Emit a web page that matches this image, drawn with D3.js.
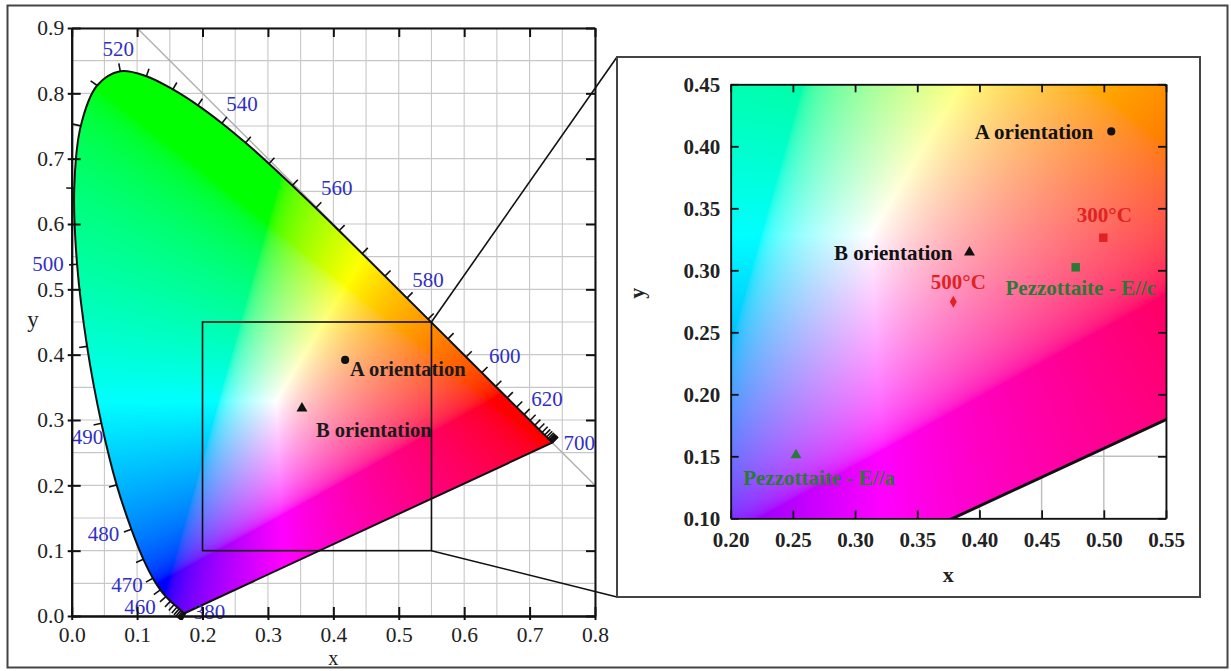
<!DOCTYPE html>
<html><head><meta charset="utf-8">
<script src="https://cdn.jsdelivr.net/npm/d3@7"></script>
<style>
body{margin:0;background:#fff;}
svg{display:block;}
text{font-family:"Liberation Serif","Times New Roman",serif;}
</style>
</head><body>
<svg id="chart" width="1231" height="671"></svg>
<script>
// ---------------- DATA ----------------
const wavelengths = [380,385,390,395,400,405,410,415,420,425,430,435,440,445,450,455,460,465,470,475,480,485,490,495,500,505,510,515,520,525,530,535,540,545,550,555,560,565,570,575,580,585,590,595,600,605,610,615,620,625,630,635,640,645,650,655,660,665,670,675,680,685,690,695,700];
const locusX = [0.1741,0.1740,0.1738,0.1736,0.1733,0.1730,0.1726,0.1721,0.1714,0.1703,0.1689,0.1669,0.1644,0.1611,0.1566,0.1510,0.1440,0.1355,0.1241,0.1096,0.0913,0.0687,0.0454,0.0235,0.0082,0.0039,0.0139,0.0389,0.0743,0.1142,0.1547,0.1929,0.2296,0.2658,0.3016,0.3373,0.3731,0.4087,0.4441,0.4788,0.5125,0.5448,0.5752,0.6029,0.6270,0.6482,0.6658,0.6801,0.6915,0.7006,0.7079,0.7140,0.7190,0.7230,0.7260,0.7283,0.7300,0.7311,0.7320,0.7327,0.7334,0.7340,0.7344,0.7346,0.7347];
const locusY = [0.0050,0.0050,0.0049,0.0049,0.0048,0.0048,0.0048,0.0048,0.0051,0.0058,0.0069,0.0086,0.0109,0.0138,0.0177,0.0227,0.0297,0.0399,0.0578,0.0868,0.1327,0.2007,0.2950,0.4127,0.5384,0.6548,0.7502,0.8120,0.8338,0.8262,0.8059,0.7816,0.7543,0.7243,0.6923,0.6589,0.6245,0.5896,0.5547,0.5202,0.4866,0.4544,0.4242,0.3965,0.3725,0.3514,0.3340,0.3197,0.3083,0.2993,0.2920,0.2859,0.2809,0.2770,0.2740,0.2717,0.2700,0.2689,0.2680,0.2673,0.2666,0.2660,0.2656,0.2654,0.2653];
const wlLabels = [380,460,470,480,490,500,520,540,560,580,600,620,700];

const mainTicksX = [0.0,0.1,0.2,0.3,0.4,0.5,0.6,0.7,0.8];
const mainTicksY = [0.0,0.1,0.2,0.3,0.4,0.5,0.6,0.7,0.8,0.9];
const mainGridStep = 0.05;
const insetTicksX = [0.20,0.25,0.30,0.35,0.40,0.45,0.50,0.55];
const insetTicksY = [0.10,0.15,0.20,0.25,0.30,0.35,0.40,0.45];

const mainPointNames = ["A orientation","B orientation"];
const mainPointX = [0.418,0.352];
const mainPointY = [0.392,0.318];
const mainPointShapes = ["circle","triangle"];

const insetNames = ["A orientation","B orientation","300°C","500°C","Pezzottaite - E//c","Pezzottaite - E//a"];
const insetX = [0.506,0.392,0.4996,0.379,0.4774,0.2525];
const insetY = [0.412,0.3145,0.3263,0.2747,0.3024,0.151];
const insetShapes = ["circle","triangle","square","diamond","square","triangle"];
const insetGroups = ["black","black","red","red","green","green"];

const zoomX = [0.2,0.55];
const zoomY = [0.1,0.45];

// ---------------- LAYOUT ----------------
const svg = d3.select("#chart");
const groupColor = {black:"#111", red:"#e02222", green:"#2a7a36"};
const wlLabelOffset = {380:[24,-1],460:[-26,10],470:[-26,6],480:[-28,4],490:[-14,13],500:[-29,-1],520:[-2,-23],540:[20,-20],560:[21,-20],580:[21,-18],600:[23,-17],620:[23,-16],700:[27,0]};
const mainLabelLayout = [{anchor:"start",dx:5,dy:16},{anchor:"start",dx:14,dy:29}];
const insetLabelLayout = [
  {anchor:"end",dx:-18,dy:8},
  {anchor:"end",dx:-17,dy:8},
  {anchor:"middle",dx:1,dy:-16},
  {anchor:"middle",dx:5,dy:-13},
  {anchor:"middle",dx:5,dy:28},
  {anchor:"middle",dx:23,dy:30}
];
const symType = {circle:d3.symbolCircle, triangle:d3.symbolTriangle, square:d3.symbolSquare, diamond:d3.symbolDiamond};
const symSize = {circle:52, triangle:52, square:72, diamond:42};

const mx = d3.scaleLinear().domain([0,0.8]).range([71.7,595]);
const my = d3.scaleLinear().domain([0,0.9]).range([616,28]);
const ix = d3.scaleLinear().domain([0.2,0.55]).range([730.7,1166]);
const iy = d3.scaleLinear().domain([0.1,0.45]).range([518.3,84.3]);

const locus = wavelengths.map((w,i)=>({w, x:locusX[i], y:locusY[i]}));

// outer frame
svg.append("rect").attr("x",7.5).attr("y",5.5).attr("width",1220).attr("height",662)
  .attr("fill","#fff").attr("stroke","#444").attr("stroke-width",2);

const defs = svg.append("defs");

function locusPath(xs, ys){
  return d3.line().x(d=>xs(d.x)).y(d=>ys(d.y)).curve(d3.curveCatmullRom.alpha(0.5))(locus) + "Z";
}

function chroma(x, y){
  if (y < 0.002) y = 0.002;
  const X = x / y, Y = 1, Z = (1 - x - y) / y;
  let r = 3.2406*X - 1.5372*Y - 0.4986*Z;
  let g = -0.9689*X + 1.8758*Y + 0.0415*Z;
  let b = 0.0557*X - 0.2040*Y + 1.0570*Z;
  r = Math.max(r,0); g = Math.max(g,0); b = Math.max(b,0);
  const m = Math.max(r,g,b) || 1;
  const gam = v => { v = v/m; return v <= 0.0031308 ? 12.92*v : 1.055*Math.pow(v,1/2.4) - 0.055; };
  return [gam(r)*255, gam(g)*255, gam(b)*255];
}

function colorImage(xs, ys){
  const x0 = Math.floor(xs.range()[0]), x1 = Math.ceil(xs.range()[1]);
  const y0 = Math.floor(ys.range()[1]), y1 = Math.ceil(ys.range()[0]);
  const w = x1 - x0, h = y1 - y0;
  const c = document.createElement("canvas"); c.width = w; c.height = h;
  const ctx = c.getContext("2d");
  const img = ctx.createImageData(w, h);
  for (let j = 0; j < h; j++){
    const cy = ys.invert(y0 + j + 0.5);
    for (let i = 0; i < w; i++){
      const cx = xs.invert(x0 + i + 0.5);
      const rgb = chroma(cx, cy);
      const k = (j*w + i)*4;
      img.data[k] = rgb[0]; img.data[k+1] = rgb[1]; img.data[k+2] = rgb[2]; img.data[k+3] = 255;
    }
  }
  ctx.putImageData(img, 0, 0);
  return {href: c.toDataURL(), x:x0, y:y0, w, h};
}

function gridVals(a, b, step){
  const out = [];
  for (let v = a; v <= b + 1e-9; v += step) out.push(+v.toFixed(3));
  return out;
}

function styleAxis(g, size, weight){
  g.selectAll(".domain").attr("stroke","#111").attr("stroke-width",2);
  g.selectAll(".tick line").attr("stroke","#111").attr("stroke-width",2);
  g.selectAll("text").attr("font-size",size).attr("font-weight",weight).attr("fill","#222")
    .attr("font-family",'"Liberation Serif","Times New Roman",serif');
}

// ================= MAIN CHART =================
const main = svg.append("g");
const mxr = mx.range(), myr = my.range();

const gx = gridVals(0, 0.8, mainGridStep), gy = gridVals(0, 0.9, mainGridStep);
main.append("g").selectAll("line").data(gx).join("line")
  .attr("x1",d=>mx(d)).attr("x2",d=>mx(d)).attr("y1",myr[0]).attr("y2",myr[1])
  .attr("stroke","#c8c8c8").attr("stroke-width",1.1);
main.append("g").selectAll("line").data(gy).join("line")
  .attr("y1",d=>my(d)).attr("y2",d=>my(d)).attr("x1",mxr[0]).attr("x2",mxr[1])
  .attr("stroke","#c8c8c8").attr("stroke-width",1.1);

// x + y = 1 line
main.append("line").attr("x1",mx(0.1)).attr("y1",my(0.9)).attr("x2",mx(0.8)).attr("y2",my(0.2))
  .attr("stroke","#b0b0b0").attr("stroke-width",1.5);

// colour fill
defs.append("clipPath").attr("id","mainClip").append("path").attr("d", locusPath(mx,my));
const mImg = colorImage(mx, my);
main.append("image").attr("href", mImg.href).attr("x",mImg.x).attr("y",mImg.y)
  .attr("width",mImg.w).attr("height",mImg.h).attr("preserveAspectRatio","none")
  .attr("clip-path","url(#mainClip)");
main.append("path").attr("d", locusPath(mx,my)).attr("fill","none").attr("stroke","#111").attr("stroke-width",2).attr("stroke-linejoin","round");

// wavelength ticks (outward normals)
const lp = locus.map(d=>[mx(d.x), my(d.y)]);
function normalAt(i){
  let k = 1, dx = 0, dy = 0;
  while (k < 12){
    const a = lp[Math.max(0,i-k)], b = lp[Math.min(lp.length-1,i+k)];
    dx = b[0]-a[0]; dy = b[1]-a[1];
    if (Math.hypot(dx,dy) > 8) break;
    k++;
  }
  const L = Math.hypot(dx,dy) || 1;
  return [dy/L, -dx/L];
}
main.append("g").selectAll("line").data(locus).join("line")
  .each(function(d,i){
    const n = normalAt(i), p = lp[i];
    d3.select(this).attr("x1",p[0]).attr("y1",p[1]).attr("x2",p[0]+n[0]*8).attr("y2",p[1]+n[1]*8);
  })
  .attr("stroke","#111").attr("stroke-width",1.6);

main.append("g").selectAll("text").data(locus.filter(d=>wlLabels.includes(d.w))).join("text")
  .attr("x",d=>mx(d.x)+wlLabelOffset[d.w][0]).attr("y",d=>my(d.y)+wlLabelOffset[d.w][1])
  .attr("dy","0.35em").attr("text-anchor","middle")
  .attr("font-size",21).attr("fill","#3030c4").text(d=>d.w);

// axes
const fmt1 = d3.format(".1f");
const axB = main.append("g").attr("transform",`translate(0,${myr[0]})`)
  .call(d3.axisBottom(mx).tickValues(mainTicksX).tickSizeInner(-9).tickSizeOuter(0).tickPadding(11).tickFormat(fmt1));
styleAxis(axB, 21.5, "normal");
const axL = main.append("g").attr("transform",`translate(${mxr[0]},0)`)
  .call(d3.axisLeft(my).tickValues(mainTicksY).tickSizeInner(-9).tickSizeOuter(0).tickPadding(7.5).tickFormat(fmt1));
styleAxis(axL, 21.5, "normal");
const axT = main.append("g").attr("transform",`translate(0,${myr[1]})`)
  .call(d3.axisTop(mx).tickValues(mainTicksX).tickSizeInner(-9).tickSizeOuter(0).tickFormat(""));
styleAxis(axT, 20, "normal");
const axR = main.append("g").attr("transform",`translate(${mxr[1]},0)`)
  .call(d3.axisRight(my).tickValues(mainTicksY).tickSizeInner(-9).tickSizeOuter(0).tickFormat(""));
styleAxis(axR, 20, "normal");
const stB = main.append("g").attr("transform",`translate(0,${myr[0]})`)
  .call(d3.axisBottom(mx).tickValues(mainTicksX).tickSizeInner(4).tickSizeOuter(0).tickFormat(""));
styleAxis(stB, 20, "normal");
const stL = main.append("g").attr("transform",`translate(${mxr[0]},0)`)
  .call(d3.axisLeft(my).tickValues(mainTicksY).tickSizeInner(4).tickSizeOuter(0).tickFormat(""));
styleAxis(stL, 20, "normal");

main.append("text").attr("x",(mxr[0]+mxr[1])/2).attr("y",665).attr("text-anchor","middle")
  .attr("font-size",20).attr("fill","#222").text("x");
main.append("text").attr("x",33).attr("y",(myr[0]+myr[1])/2).attr("dy","0.2em").attr("text-anchor","middle")
  .attr("font-size",23).attr("fill","#222").text("y");

// zoom box
main.append("rect").attr("x",mx(zoomX[0])).attr("y",my(zoomY[1]))
  .attr("width",mx(zoomX[1])-mx(zoomX[0])).attr("height",my(zoomY[0])-my(zoomY[1]))
  .attr("fill","none").attr("stroke","#111").attr("stroke-width",1.6);

// main points
const mainPts = mainPointNames.map((n,i)=>({n, x:mainPointX[i], y:mainPointY[i], s:mainPointShapes[i], L:mainLabelLayout[i]}));
main.append("g").selectAll("path").data(mainPts).join("path")
  .attr("transform",d=>`translate(${mx(d.x)},${my(d.y)})`)
  .attr("d",d=>d3.symbol().type(symType[d.s]).size(symSize[d.s])())
  .attr("fill","#111");
main.append("g").selectAll("text").data(mainPts).join("text")
  .attr("x",d=>mx(d.x)+d.L.dx).attr("y",d=>my(d.y)+d.L.dy).attr("text-anchor",d=>d.L.anchor)
  .attr("font-size",20.5).attr("font-weight","bold").attr("fill","#1a1a1a").text(d=>d.n);

// ================= INSET =================
const frame = {x:617, y:57, w:583, h:540};
main.append("line").attr("x1",mx(zoomX[1])).attr("y1",my(zoomY[1])).attr("x2",frame.x).attr("y2",frame.y)
  .attr("stroke","#111").attr("stroke-width",1.6);
main.append("line").attr("x1",mx(zoomX[1])).attr("y1",my(zoomY[0])).attr("x2",frame.x).attr("y2",frame.y+frame.h)
  .attr("stroke","#111").attr("stroke-width",1.6);

const inset = svg.append("g");
inset.append("rect").attr("x",frame.x).attr("y",frame.y).attr("width",frame.w).attr("height",frame.h)
  .attr("fill","#fff").attr("stroke","#444").attr("stroke-width",2);

const ixr = ix.range(), iyr = iy.range();
defs.append("clipPath").attr("id","insetRect").append("rect")
  .attr("x",ixr[0]).attr("y",iyr[1]).attr("width",ixr[1]-ixr[0]).attr("height",iyr[0]-iyr[1]);
defs.append("clipPath").attr("id","insetLocus").append("path").attr("d", locusPath(ix,iy));

inset.append("g").selectAll("line").data(insetTicksX).join("line")
  .attr("x1",d=>ix(d)).attr("x2",d=>ix(d)).attr("y1",iyr[0]).attr("y2",iyr[1])
  .attr("stroke","#c0c0c0").attr("stroke-width",1.5);
inset.append("g").selectAll("line").data(insetTicksY).join("line")
  .attr("y1",d=>iy(d)).attr("y2",d=>iy(d)).attr("x1",ixr[0]).attr("x2",ixr[1])
  .attr("stroke","#c0c0c0").attr("stroke-width",1.5);

const iImg = colorImage(ix, iy);
inset.append("g").attr("clip-path","url(#insetRect)")
  .append("image").attr("href", iImg.href).attr("x",iImg.x).attr("y",iImg.y)
  .attr("width",iImg.w).attr("height",iImg.h).attr("preserveAspectRatio","none")
  .attr("clip-path","url(#insetLocus)");
inset.append("g").attr("clip-path","url(#insetRect)")
  .append("path").attr("d", locusPath(ix,iy)).attr("fill","none").attr("stroke","#111").attr("stroke-width",3);

const fmt2 = d3.format(".2f");
const iaB = inset.append("g").attr("transform",`translate(0,${iyr[0]})`)
  .call(d3.axisBottom(ix).tickValues(insetTicksX).tickSizeInner(-8).tickSizeOuter(0).tickPadding(14).tickFormat(fmt2));
styleAxis(iaB, 21, "bold");
const iaL = inset.append("g").attr("transform",`translate(${ixr[0]},0)`)
  .call(d3.axisLeft(iy).tickValues(insetTicksY).tickSizeInner(-8).tickSizeOuter(0).tickPadding(10.5).tickFormat(fmt2));
styleAxis(iaL, 21, "bold");
const iaT = inset.append("g").attr("transform",`translate(0,${iyr[1]})`)
  .call(d3.axisTop(ix).tickValues(insetTicksX).tickSizeInner(-8).tickSizeOuter(0).tickFormat(""));
styleAxis(iaT, 21, "bold");
const iaR = inset.append("g").attr("transform",`translate(${ixr[1]},0)`)
  .call(d3.axisRight(iy).tickValues(insetTicksY).tickSizeInner(-8).tickSizeOuter(0).tickFormat(""));
styleAxis(iaR, 21, "bold");
[iaB,iaL,iaT,iaR].forEach(g=>{ g.selectAll(".domain").attr("stroke-width",1.8); g.selectAll(".tick line").attr("stroke-width",1.8); });

inset.append("text").attr("x",(ixr[0]+ixr[1])/2).attr("y",582).attr("text-anchor","middle")
  .attr("font-size",22).attr("font-weight","bold").attr("fill","#222").text("x");
inset.append("text").attr("transform",`translate(644,${(iyr[0]+iyr[1])/2 - 8}) rotate(-90)`).attr("text-anchor","middle")
  .attr("font-size",22).attr("font-weight","bold").attr("fill","#222").text("y");

const insetPts = insetNames.map((n,i)=>({n, x:insetX[i], y:insetY[i], s:insetShapes[i], c:groupColor[insetGroups[i]], L:insetLabelLayout[i]}));
inset.append("g").selectAll("path").data(insetPts).join("path")
  .attr("transform",d=>`translate(${ix(d.x)},${iy(d.y)})`)
  .attr("d",d=>d3.symbol().type(symType[d.s]).size(symSize[d.s])())
  .attr("fill",d=>d.c);
inset.append("g").selectAll("text").data(insetPts).join("text")
  .attr("x",d=>ix(d.x)+d.L.dx).attr("y",d=>iy(d.y)+d.L.dy).attr("text-anchor",d=>d.L.anchor)
  .attr("font-size",21).attr("font-weight","bold").attr("fill",d=>d.c).text(d=>d.n);
</script>
</body></html>
